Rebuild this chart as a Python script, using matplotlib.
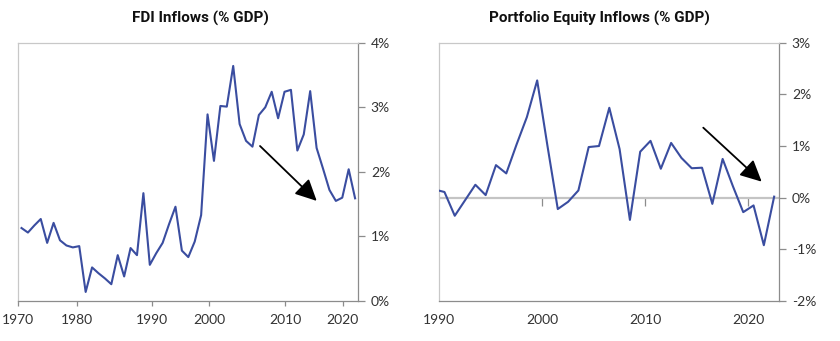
import numpy as np
import matplotlib
matplotlib.use("Agg")
import matplotlib.pyplot as plt

# ---------------- data ----------------
fdi_years = list(range(1970, 2023))
fdi_values = [1.13, 1.06, 1.17, 1.27, 0.90, 1.21, 0.94, 0.86, 0.83, 0.85,
              0.14, 0.52, 0.43, 0.35, 0.26, 0.71, 0.38, 0.82, 0.71, 1.67,
              0.56, 0.74, 0.90, 1.19, 1.46, 0.78, 0.68, 0.92, 1.33, 2.89,
              2.17, 3.02, 3.01, 3.64, 2.74, 2.48, 2.39, 2.88, 3.00, 3.24,
              2.83, 3.24, 3.27, 2.33, 2.58, 3.25, 2.37, 2.05, 1.72, 1.55,
              1.60, 2.04, 1.59]
fdi_tick_labels = ["1970", "1980", "1990", "2000", "2010", "2020"]
fdi_yticks = [0, 1, 2, 3, 4]

pe_years = list(range(1989, 2023))
pe_values = [0.16, 0.11, -0.35, -0.05, 0.25, 0.05, 0.63, 0.47, 1.03, 1.56,
             2.27, 1.00, -0.22, -0.08, 0.14, 0.98, 1.00, 1.74, 0.94, -0.43,
             0.89, 1.10, 0.56, 1.06, 0.77, 0.57, 0.58, -0.12, 0.75, 0.22,
             -0.28, -0.15, -0.92, 0.02]
pe_tick_labels = ["1990", "2000", "2010", "2020"]
pe_yticks = [-2, -1, 0, 1, 2, 3]

# ---------------- style ----------------
LINE = "#3A4DA0"
SPINE_LIGHT = "#c8c8c8"
SPINE_DARK = "#8c8c8c"
TXT = "#333333"
FONT = "Lato"
TSIZE = 10

fig = plt.figure(figsize=(8.4, 3.41), dpi=100)
W, H = 840, 341
ax1 = fig.add_axes([18.3 / W, 40 / H, 340 / W, 258.3 / H])
ax2 = fig.add_axes([439.3 / W, 40 / H, 340 / W, 258.3 / H])


def style_axes(ax):
    for s in ("left", "top"):
        ax.spines[s].set_color(SPINE_LIGHT)
        ax.spines[s].set_linewidth(0.9)
    for s in ("right", "bottom"):
        ax.spines[s].set_color(SPINE_DARK)
        ax.spines[s].set_linewidth(0.9)
    ax.yaxis.tick_right()
    ax.tick_params(axis="y", direction="out", length=5, width=0.9,
                   color=SPINE_DARK, pad=4, labelsize=TSIZE, labelcolor=TXT)
    for lab in ax.get_xticklabels() + ax.get_yticklabels():
        lab.set_fontfamily(FONT)


# ---- left: FDI ----
ax1.plot(np.array(fdi_years) + 0.5, fdi_values, color=LINE, lw=1.5)
ax1.set_xlim(1970, 2023)
ax1.set_ylim(0, 4)
ax1.set_yticks(fdi_yticks, [f"{v}%" for v in fdi_yticks])
fdi_tick_pos = [1970.0, 1979.1, 1990.8, 1999.77, 2011.57, 2020.57]
ax1.set_xticks(fdi_tick_pos, fdi_tick_labels)
ax1.tick_params(axis="x", direction="out", length=3.6, width=0.9,
                color=SPINE_DARK, pad=6.0, labelsize=TSIZE, labelcolor=TXT)
style_axes(ax1)
ax1.annotate("", xy=(2016.52, 1.55), xytext=(2007.68, 2.40),
             arrowprops=dict(arrowstyle="-|>,head_length=0.65,head_width=0.32",
                             mutation_scale=20, color="black", lw=1.3,
                             shrinkA=0, shrinkB=0))

# ---- right: Portfolio equity ----
ax2.axhline(0, color="#c4c4c4", lw=1.6, zorder=1)
ax2.plot(np.array(pe_years) + 0.5, pe_values, color=LINE, lw=1.5, zorder=3)
ax2.set_xlim(1990, 2023)
ax2.set_ylim(-2, 3)
ax2.set_yticks(pe_yticks, [f"{v}%" for v in pe_yticks])
ax2.set_xticks([1990, 2000, 2010, 2020], pe_tick_labels)
ax2.tick_params(axis="x", length=0, pad=9.6, labelsize=TSIZE, labelcolor=TXT)
style_axes(ax2)
sec = ax2.secondary_xaxis(0.4)
sec.set_xticks([2000, 2010, 2020])
sec.tick_params(axis="x", direction="out", length=5.5, width=0.9,
                color=SPINE_DARK, labelbottom=False, labeltop=False)
for s in sec.spines.values():
    s.set_visible(False)
ax2.annotate("", xy=(2021.29, 0.31), xytext=(2015.62, 1.355),
             arrowprops=dict(arrowstyle="-|>,head_length=0.65,head_width=0.32",
                             mutation_scale=20, color="black", lw=1.3,
                             shrinkA=0, shrinkB=0))

# ---- titles ----
fig.text(200 / W, 1 - 18 / H, "FDI Inflows (% GDP)", ha="center", va="center",
         fontsize=11, fontweight="bold", family="Roboto", color="#111111")
fig.text(599 / W, 1 - 18 / H, "Portfolio Equity Inflows (% GDP)", ha="center",
         va="center", fontsize=11, fontweight="bold", family="Roboto",
         color="#111111")

fig.savefig("out.png", dpi=100)
